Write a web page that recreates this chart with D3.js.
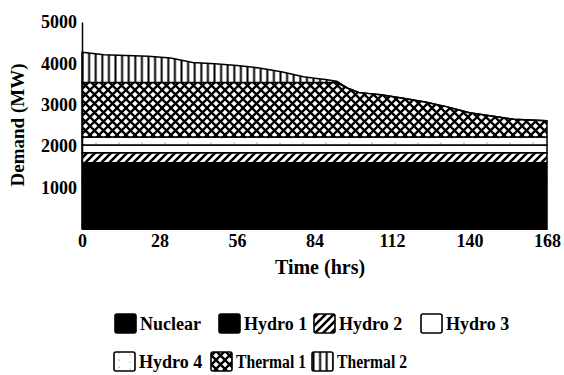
<!DOCTYPE html>
<html><head><meta charset="utf-8">
<script src="https://cdn.jsdelivr.net/npm/d3@7"></script>
<style>body{margin:0;background:#fff;} text{font-family:"Liberation Serif","DejaVu Serif",serif;font-weight:bold;fill:#000;}</style>
</head><body>
<svg id="c" width="564" height="375"></svg>
<script>
// hours
const hours    = [0,8,16,24,32,40,48,56,64,72,80,84,88,92,96,100,104,108,116,124,132,140,148,156,164,168];
// series values (MW)
const nuclear  = [1200,1200,1200,1200,1200,1200,1200,1200,1200,1200,1200,1200,1200,1200,1200,1200,1200,1200,1200,1200,1200,1200,1200,1200,1200,1200];
const hydro1   = [400,400,400,400,400,400,400,400,400,400,400,400,400,400,400,400,400,400,400,400,400,400,400,400,400,400];
const hydro2   = [240,240,240,240,240,240,240,240,240,240,240,240,240,240,240,240,240,240,240,240,240,240,240,240,240,240];
const hydro3   = [190,190,190,190,190,190,190,190,190,190,190,190,190,190,190,190,190,190,190,190,190,190,190,190,190,190];
const hydro4   = [190,190,190,190,190,190,190,190,190,190,190,190,190,190,190,190,190,190,190,190,190,190,190,190,190,190];
const thermal1 = [1320,1320,1320,1320,1320,1320,1320,1320,1320,1320,1320,1320,1320,1320,1180,1080,1050,1020,940,850,730,590,510,430,405,395];
const thermal2 = [730,670,650,635,590,480,450,410,350,260,135,100,70,30,0,0,0,0,0,0,0,0,0,0,0,0];
const seriesNames = ["Nuclear","Hydro 1","Hydro 2","Hydro 3","Hydro 4","Thermal 1","Thermal 2"];
const xTicks = [0,28,56,84,112,140,168];
const yTicks = [1000,2000,3000,4000,5000];

const svg = d3.select("#c");
const defs = svg.append("defs");
// patterns
let p = defs.append("pattern").attr("id","p-diag").attr("patternUnits","userSpaceOnUse").attr("width",8).attr("height",8);
p.append("rect").attr("width",8).attr("height",8).attr("fill","#fff");
p.append("path").attr("d","M-2,2L2,-2M0,8L8,0M6,10L10,6").attr("stroke","#000").attr("stroke-width",2.6);
p = defs.append("pattern").attr("id","p-dots").attr("patternUnits","userSpaceOnUse").attr("width",23).attr("height",7);
p.append("rect").attr("width",23).attr("height",7).attr("fill","#fff");
p.append("circle").attr("cx",4).attr("cy",3).attr("r",0.6).attr("fill","#555");
p.append("circle").attr("cx",15).attr("cy",5).attr("r",0.5).attr("fill","#777");
p = defs.append("pattern").attr("id","p-cross").attr("patternUnits","userSpaceOnUse").attr("width",9).attr("height",9);
p.append("rect").attr("width",9).attr("height",9).attr("fill","#fff");
p.append("path").attr("d","M0,0L9,9M9,0L0,9").attr("stroke","#000").attr("stroke-width",2.3);
p = defs.append("pattern").attr("id","p-vert").attr("patternUnits","userSpaceOnUse").attr("width",6.6).attr("height",10);
p.append("rect").attr("width",6.6).attr("height",10).attr("fill","#fff");
p.append("path").attr("d","M3.3,0V10").attr("stroke","#000").attr("stroke-width",2);

const fills = ["#000","#000","url(#p-diag)","#fff","url(#p-dots)","url(#p-cross)","url(#p-vert)"];
const seriesData = [nuclear,hydro1,hydro2,hydro3,hydro4,thermal1,thermal2];

const x = d3.scaleLinear().domain([0,168]).range([82,547]);
const y = d3.scaleLinear().domain([0,5000]).range([229,22]);

const rows = hours.map((h,i)=>{const o={h}; seriesNames.forEach((n,k)=>o[n]=seriesData[k][i]); return o;});
const stack = d3.stack().keys(seriesNames)(rows);
const area = d3.area().x(d=>x(d.data.h)).y0(d=>y(d[0])).y1(d=>y(d[1]));

svg.append("g").selectAll("path").data(stack).join("path")
  .attr("d",area).attr("fill",(d,i)=>fills[i])
  .attr("stroke","#000").attr("stroke-width",1.5).attr("stroke-linejoin","round");

// axes
const ya = svg.append("g").attr("transform","translate(82,0)")
  .call(d3.axisLeft(y).tickValues(yTicks).tickSize(0).tickPadding(5).tickFormat(d3.format("d")));
ya.select(".domain").attr("stroke","#000").attr("stroke-width",1.5);
ya.selectAll("text").style("font-size","18px").style("font-family","Liberation Serif").style("font-weight","bold");

const xa = svg.append("g").attr("transform","translate(0,229)")
  .call(d3.axisBottom(x).tickValues(xTicks).tickSize(0).tickPadding(5).tickFormat(d3.format("d")));
xa.select(".domain").attr("stroke","#000").attr("stroke-width",1);
xa.selectAll("text").style("font-size","18px").style("font-family","Liberation Serif").style("font-weight","bold");

svg.append("text").attr("x",320).attr("y",274).attr("text-anchor","middle").style("font-size","20px").text("Time (hrs)");
svg.append("text").attr("transform","translate(24,125) rotate(-90)").attr("text-anchor","middle").style("font-size","19px").text("Demand (MW)");

// legend
const legPos = [[115,314],[219,314],[314,314],[421,314],[114,352],[211,352],[312,352]];
const lg = svg.append("g");
seriesNames.forEach((n,i)=>{
  const [lx,ly]=legPos[i];
  lg.append("rect").attr("x",lx).attr("y",ly).attr("width",21).attr("height",19).attr("rx",2)
    .attr("fill",fills[i]).attr("stroke","#000").attr("stroke-width",1.6);
  const t = lg.append("text").attr("x",lx+25).attr("y",ly+16).style("font-size","18px").text(n);
  if (n.startsWith("Thermal")) t.attr("textLength",70).attr("lengthAdjust","spacingAndGlyphs");
});
</script>
</body></html>
